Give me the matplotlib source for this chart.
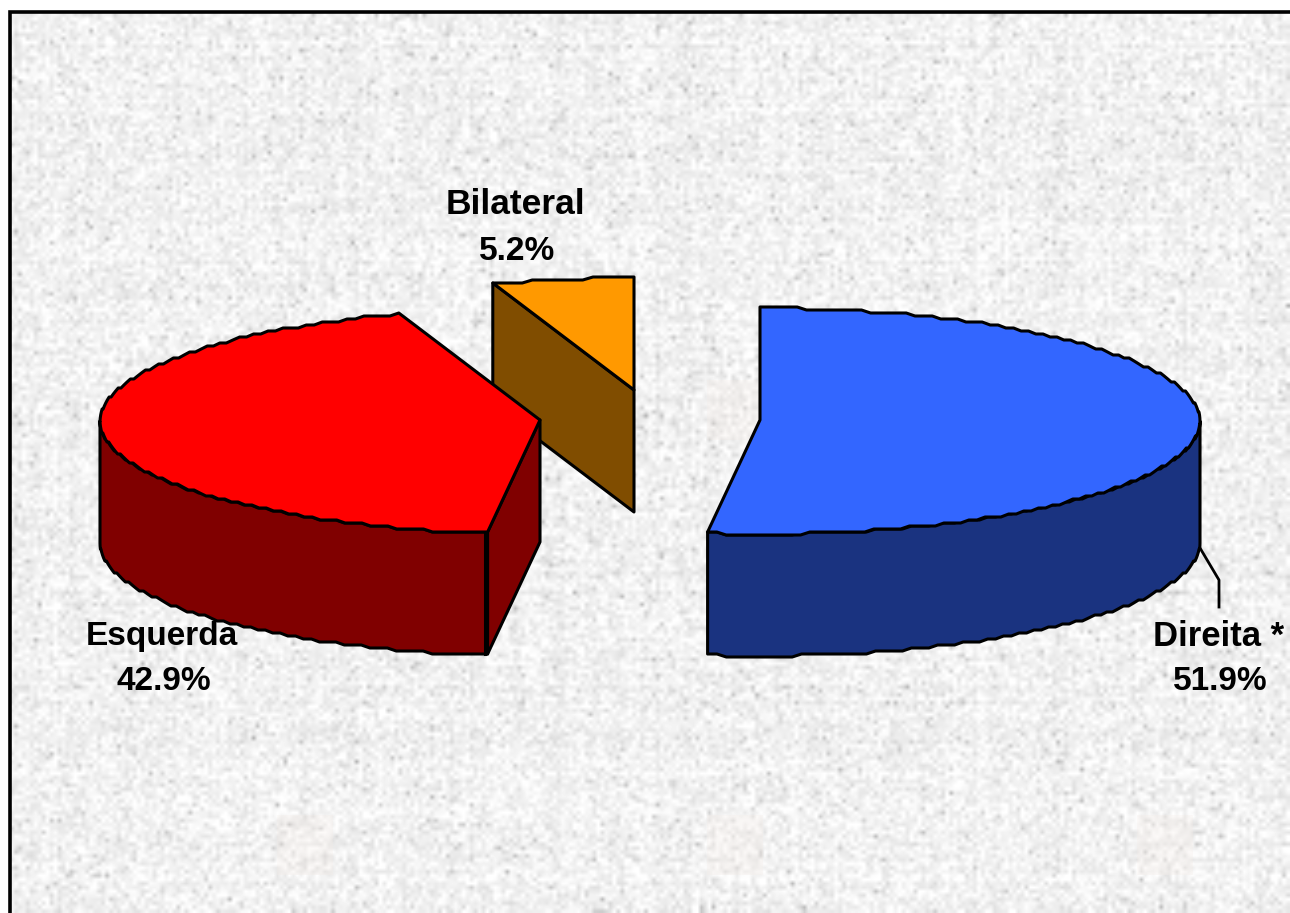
# plot.py
# exploded 3d style pie on a speckled background

import numpy as np
import matplotlib
matplotlib.use("Agg")
import matplotlib.pyplot as plt
from matplotlib.patches import Polygon, Rectangle

labels = ["Direita *", "Esquerda", "Bilateral"]
percent = [51.9, 42.9, 5.2]
top_colors = ["#3366FF", "#FF0000", "#FF9900"]
side_colors = ["#1A3380", "#800000", "#804D00"]

# picture geometry in pixels
W = 1290; H = 913
rx = 440; ry = 113; depth = 122
centers = [(760, 420), (540, 420), (634, 390)]
label_pos = [(1219, 636), (162, 636), (515, 204)]
label_size = [25, 24, 25.5]
pct_pos = [(1220, 682), (164, 682), (517, 251)]
logo_pos = [(735, 410), (305, 845), (735, 845), (1165, 845)]


def jag(pts, step=3.0):
    """Round the y of curve points so the rim looks like the low res original."""
    out = pts.copy()
    out[:, 1] = np.round(out[:, 1] / step) * step + 1
    return out


def arc(center, deg1, deg2):
    """Points on the pie rim, angles clockwise from 12 o'clock."""
    n = max(2, int(abs(deg2 - deg1) / 1.2))
    a = np.radians(90 - np.linspace(deg1, deg2, n))
    return np.column_stack([center[0] + rx * np.cos(a), center[1] - ry * np.sin(a)])


def add_poly(ax, pts, color, z):
    ax.add_patch(Polygon(pts, closed=True, facecolor=color, edgecolor="black",
                         linewidth=2.2, joinstyle="round", zorder=z))


# start and end angle of each slice
ends = np.cumsum(percent) / sum(percent) * 360
starts = np.concatenate([[0], ends[:-1]])

fig = plt.figure(figsize=(W / 100, H / 100), dpi=100)
ax = fig.add_axes([0, 0, 1, 1])

# background texture, only decoration
rng = np.random.default_rng(7)
tex = 241 + rng.normal(0, 10, (H // 4 + 1, W // 4 + 1))
tex += rng.normal(0, 2, (H // 4 + 1, 1)) + rng.normal(0, 2, (1, W // 4 + 1))
spots = rng.random(tex.shape) < 0.02
tex[spots] -= 35
tex = np.clip(tex, 175, 255)
ax.imshow(tex, cmap="gray", vmin=0, vmax=255, extent=(10, W, H, 13),
          interpolation="bilinear", aspect="auto", zorder=0)
ax.set_xlim(0, W)
ax.set_ylim(H, 0)
ax.axis("off")
for lx, ly in logo_pos:
    ax.add_patch(Rectangle((lx - 28, ly - 30), 56, 60, facecolor="#F6ECE6", alpha=0.25,
                           edgecolor="none", zorder=1))
ax.plot([9.5, 9.5, W], [H, 12.5, 12.5], color="black", lw=2.6, zorder=1,
        solid_joinstyle="miter")

# bilateral is behind the others
c = centers[2]
rim = jag(arc(c, starts[2], ends[2]))
left = rim[0]
add_poly(ax, [left, c, (c[0], c[1] + depth), (left[0], left[1] + depth)], side_colors[2], 2)
add_poly(ax, np.vstack([rim, [c]]), top_colors[2], 3)

# esquerda, only the front part of the rim has a visible wall
c = centers[1]
rim = jag(arc(c, starts[1], ends[1]))
first = rim[0]
wall = jag(arc(c, starts[1], 270))
add_poly(ax, np.vstack([wall, wall[::-1] + [0, depth]]), side_colors[1], 4)
add_poly(ax, [first, c, (c[0], c[1] + depth), (first[0], first[1] + depth)], side_colors[1], 5)
ax.plot([first[0] - 3, first[0] - 3], [first[1], first[1] + depth], color="black", lw=2.2, zorder=6)
add_poly(ax, np.vstack([rim, [c]]), top_colors[1], 7)

# direita
c = centers[0]
rim = jag(arc(c, starts[0], ends[0]))
wall = jag(arc(c, 90, ends[0]))
add_poly(ax, np.vstack([wall, wall[::-1] + [0, depth]]), side_colors[0], 4)
add_poly(ax, np.vstack([rim, [c]]), top_colors[0], 7)

# leader line of direita
ax.plot([1200, 1219, 1219], [548, 580, 607], color="black", lw=2, zorder=8)

# labels
for name, p, xy, size, xy2 in zip(labels, percent, label_pos, label_size, pct_pos):
    ax.text(xy[0], xy[1], name, ha="center", va="center", fontsize=size,
            fontweight="bold", family="Liberation Sans", color="black", zorder=9)
    ax.text(xy2[0], xy2[1], "%.1f%%" % p, ha="center", va="center", fontsize=24,
            fontweight="bold", family="Liberation Sans", color="black", zorder=9)

fig.savefig("out.png", dpi=100, facecolor="white")
